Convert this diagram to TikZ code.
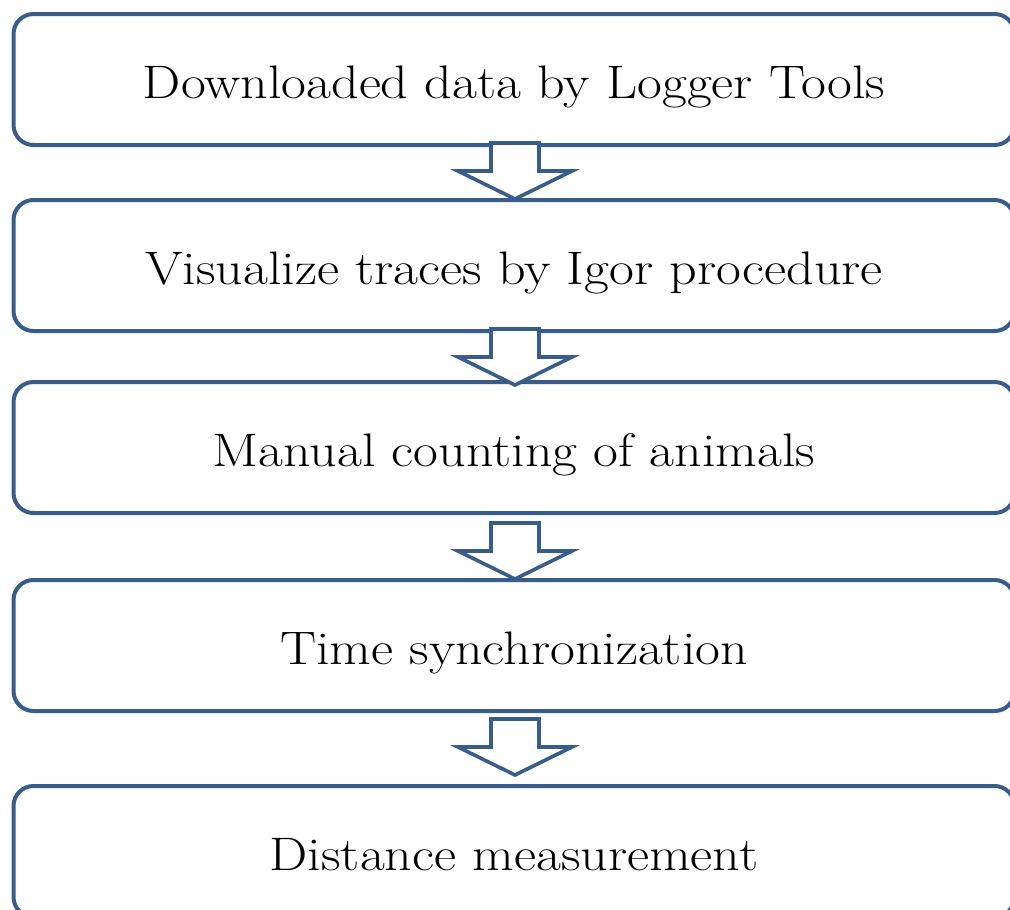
\documentclass[tikz,border=0pt]{standalone}
\newcommand{\widetext}[1]{\scalebox{1.15}[1]{#1}}
\begin{document}
\begin{tikzpicture}[x=1pt,y=-1pt,
  stepbox/.style={draw=boxblue, line width=4pt, rounded corners=20pt, minimum width=1001pt, minimum height=131pt, inner sep=0pt, fill=white},
  label/.style={anchor=base, inner sep=0pt, font=\fontsize{47}{56}\selectfont},
  blockarrow/.style={draw=boxblue, line width=3.6pt, fill=white, line join=miter}]
\definecolor{boxblue}{HTML}{385D8A}
\useasboundingbox (0,0) rectangle (1010,910);
\clip (0,0) rectangle (1010,910);
% boxes
\node[stepbox] (b1) at (514,79.5) {};
\node[stepbox] (b2) at (514,265.5) {};
\node[stepbox] (b3) at (514,447.5) {};
\node[stepbox] (b4) at (514,645.5) {};
\node[stepbox] (b5) at (514,851.5) {};
% texts
\node[label] (t1) at (514,98) {\widetext{Downloaded data by Logger Tools}};
\node[label] (t2) at (514,284) {\widetext{Visualize traces by Igor procedure}};
\node[label] (t3) at (514,466) {\widetext{Manual counting of animals}};
\node[label] (t4) at (514,664) {\widetext{Time synchronization}};
\node[label] (t5) at (514,870) {\widetext{Distance measurement}};
% block arrows
\coordinate (a1) at (515,143);
\coordinate (a2) at (515,329);
\coordinate (a3) at (515,523);
\coordinate (a4) at (515,719);
\foreach \a in {a1,a2,a3,a4}{
  \draw[blockarrow] (\a) ++(-24,0) -- ++(0,28) -- ++(-33,0) -- ++(57,28) -- ++(57,-28) -- ++(-33,0) -- ++(0,-28) -- cycle;
}
\end{tikzpicture}
\end{document}
